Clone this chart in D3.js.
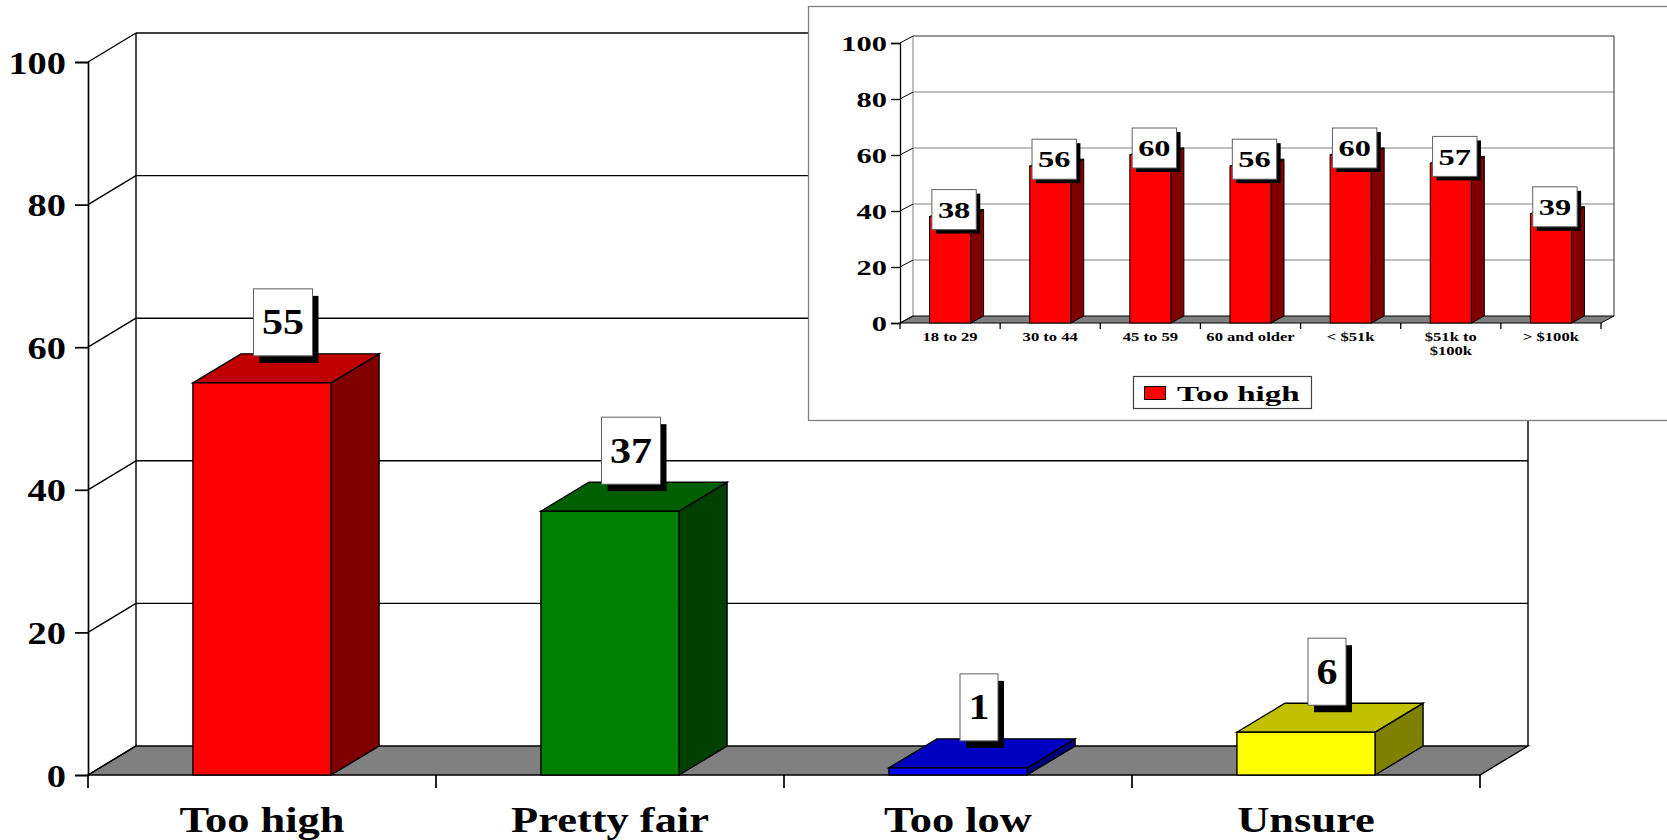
<!DOCTYPE html>
<html>
<head>
<meta charset="utf-8">
<script src="https://cdn.jsdelivr.net/npm/d3@7/dist/d3.min.js"></script>
<style>
  html, body { margin: 0; padding: 0; background: #fff; }
  svg { display: block; }
  text { font-family: "Liberation Serif", "Times New Roman", serif; font-weight: bold; fill: #000; }
</style>
</head>
<body>
<svg id="chart" width="1667" height="840"></svg>
<script>
// ---------- DATA ----------
const mainCategories = ["Too high", "Pretty fair", "Too low", "Unsure"];
const mainValues = [55, 37, 1, 6];
const mainFront = ["#FF0000", "#008000", "#0000FF", "#FFFF00"];
const mainTop   = ["#C00000", "#006000", "#0000C0", "#C0C000"];
const mainSide  = ["#800000", "#004000", "#000080", "#808000"];
const yTicks = [0, 20, 40, 60, 80, 100];

const insetCategories = ["18 to 29", "30 to 44", "45 to 59", "60 and older", "< $51k", "$51k to $100k", "> $100k"];
const insetTickLabels = [["18 to 29"], ["30 to 44"], ["45 to 59"], ["60 and older"], ["< $51k"], ["$51k to", "$100k"], ["> $100k"]];
const insetValues = [38, 56, 60, 56, 60, 57, 39];
const insetSeriesName = "Too high";
const insetColors = { front: "#FF0000", top: "#C00000", side: "#800000" };

// ---------- SETUP ----------
const svg = d3.select("#chart");

function scaledText(g, x, y, str, size, sx, anchor) {
  return g.append("text")
    .attr("transform", `translate(${x},${y}) scale(${sx},1)`)
    .attr("text-anchor", anchor || "middle")
    .style("font-size", size + "px")
    .text(str);
}

function draw3DChart(g, cfg) {
  const { x, y, dx, dy, cats, vals, front, top, side, gridColor, wallColor } = cfg;
  const [x0, x1] = x.range();
  const yb = y(0);
  const yt = y(100);

  // back wall gridlines
  g.append("g").selectAll("line").data(cfg.ticks.filter(t => t > 0)).join("line")
    .attr("x1", x0 + dx).attr("x2", x1 + dx)
    .attr("y1", d => y(d) + dy).attr("y2", d => y(d) + dy)
    .attr("stroke", d => d === 100 ? wallColor : gridColor).attr("stroke-width", cfg.gw);
  // back wall verticals
  g.append("line").attr("x1", x0 + dx).attr("x2", x0 + dx).attr("y1", yt + dy).attr("y2", yb + dy)
    .attr("stroke", cfg.leftWall || wallColor).attr("stroke-width", cfg.gw);
  g.append("line").attr("x1", x1 + dx).attr("x2", x1 + dx).attr("y1", yt + dy).attr("y2", yb + dy)
    .attr("stroke", wallColor).attr("stroke-width", cfg.gw);

  // floor
  g.append("polygon")
    .attr("points", [[x0, yb], [x1, yb], [x1 + dx, yb + dy], [x0 + dx, yb + dy]].join(" "))
    .attr("fill", "#808080").attr("stroke", "#000").attr("stroke-width", cfg.gw);

  // left side wall diagonals
  g.append("g").selectAll("line").data(cfg.ticks).join("line")
    .attr("x1", x0).attr("x2", x0 + dx)
    .attr("y1", d => y(d)).attr("y2", d => y(d) + dy)
    .attr("stroke", "#000").attr("stroke-width", cfg.gw);

  // y axis (ticks + labels) via d3.axisLeft
  const ax = g.append("g").attr("transform", `translate(${x0},0)`)
    .call(d3.axisLeft(y).tickValues(cfg.ticks).tickSize(cfg.tickLen).tickFormat(d3.format("d")));
  ax.select(".domain").attr("stroke", "#000").attr("stroke-width", cfg.gw + 0.3);
  ax.selectAll(".tick line").attr("stroke", "#000").attr("stroke-width", cfg.gw + 0.3);
  ax.selectAll(".tick text")
    .attr("x", null).attr("dy", null)
    .attr("font-family", null).attr("font-size", null).attr("fill", null)
    .attr("text-anchor", "end")
    .attr("transform", `translate(${-cfg.ylabGap},${cfg.ylabDy}) scale(${cfg.ylabSx},1)`)
    .style("font-size", cfg.ylabSize + "px");

  // category boundary ticks
  const step = x.step();
  g.append("g").selectAll("line").data(d3.range(cats.length + 1)).join("line")
    .attr("x1", i => x0 + i * step).attr("x2", i => x0 + i * step)
    .attr("y1", yb).attr("y2", yb + cfg.catTick)
    .attr("stroke", "#000").attr("stroke-width", cfg.gw + 0.3);

  // bars
  const bw = x.bandwidth();
  const bars = g.append("g").selectAll("g").data(vals).join("g");
  bars.each(function (v, i) {
    const b = d3.select(this);
    const L = x(cats[i]), R = L + bw, T = y(v);
    b.append("polygon")
      .attr("points", [[R, yb], [R + dx, yb + dy], [R + dx, T + dy], [R, T]].join(" "))
      .attr("fill", side[i]).attr("stroke", "#000").attr("stroke-width", cfg.bw);
    b.append("polygon")
      .attr("points", [[L, T], [R, T], [R + dx, T + dy], [L + dx, T + dy]].join(" "))
      .attr("fill", top[i]).attr("stroke", "#000").attr("stroke-width", cfg.bw);
    b.append("rect")
      .attr("x", L).attr("y", T).attr("width", bw).attr("height", yb - T)
      .attr("fill", front[i]).attr("stroke", "#000").attr("stroke-width", cfg.bw);
  });

  // value label boxes
  vals.forEach((v, i) => {
    const cx = x(cats[i]) + bw / 2 + cfg.boxDx;
    const str = String(v);
    const lg = g.append("g");
    const t = scaledText(lg, 0, 0, str, cfg.lblSize, cfg.lblSx, "middle");
    const tw = t.node().getComputedTextLength() * cfg.lblSx;
    t.remove();
    const w = tw + cfg.boxPad, h = cfg.boxH;
    const by = cfg.boxAnchor === "bottom" ? (y(v) + dy + cfg.boxYOff - h) : (y(v) + dy - h / 2 + cfg.boxYOff);
    lg.append("rect").attr("x", cx - w / 2 + cfg.shOff[0]).attr("y", by + cfg.shOff[1])
      .attr("width", w).attr("height", h).attr("fill", "#000");
    lg.append("rect").attr("x", cx - w / 2).attr("y", by).attr("width", w).attr("height", h)
      .attr("fill", "#fff").attr("stroke", "#606060").attr("stroke-width", 1);
    scaledText(lg, cx, by + h / 2 + cfg.lblSize * 0.34, str, cfg.lblSize, cfg.lblSx, "middle");
  });
}

// ---------- MAIN CHART ----------
const mainG = svg.append("g");
const xMain = d3.scaleBand().domain(mainCategories).range([88, 1480]).paddingInner(0.603).paddingOuter(0.3015);
const yMain = d3.scaleLinear().domain([0, 100]).range([775, 62]);
draw3DChart(mainG, {
  x: xMain, y: yMain, dx: 48, dy: -29, cats: mainCategories, vals: mainValues,
  front: mainFront, top: mainTop, side: mainSide, ticks: yTicks,
  gridColor: "#000", wallColor: "#000", gw: 1.4, bw: 1.4, tickLen: 13, catTick: 13,
  ylabGap: 22, ylabDy: 11, ylabSx: 1.2, ylabSize: 32,
  lblSize: 35, lblSx: 1.2, boxPad: 17, boxH: 67, boxDx: 21, boxAnchor: "bottom", boxYOff: 2, shOff: [6, 7]
});
// main category labels via axisBottom
const catAxis = mainG.append("g").attr("transform", "translate(0,775)")
  .call(d3.axisBottom(xMain).tickSize(0).tickPadding(0));
catAxis.select(".domain").remove();
catAxis.selectAll(".tick text")
  .attr("y", null).attr("dy", null)
  .attr("font-family", null).attr("font-size", null).attr("fill", null)
  .attr("transform", "translate(0,57) scale(1.27,1)")
  .style("font-size", "35px");

// ---------- INSET ----------
const insetG = svg.append("g");
insetG.append("rect").attr("x", 808.5).attr("y", 6.5).attr("width", 880).attr("height", 414)
  .attr("fill", "#fff").attr("stroke", "#808080").attr("stroke-width", 1.3);

const xIn = d3.scaleBand().domain(insetCategories).range([900, 1601]).paddingInner(0.59).paddingOuter(0.295);
const yIn = d3.scaleLinear().domain([0, 100]).range([323, 43]);
draw3DChart(insetG, {
  x: xIn, y: yIn, dx: 13, dy: -7, cats: insetCategories, vals: insetValues,
  front: insetValues.map(() => insetColors.front), top: insetValues.map(() => insetColors.top),
  side: insetValues.map(() => insetColors.side), ticks: yTicks,
  gridColor: "#808080", wallColor: "#303030", leftWall: "#808080", gw: 1, bw: 1, tickLen: 9, catTick: 6,
  ylabGap: 13, ylabDy: 7, ylabSx: 1.45, ylabSize: 21,
  lblSize: 24, lblSx: 1.35, boxPad: 12, boxH: 40, boxDx: 4, boxAnchor: "center", boxYOff: 0, shOff: [4, 4]
});
// inset category labels
insetTickLabels.forEach((lines, i) => {
  const cx = xIn(insetCategories[i]) + xIn.bandwidth() / 2;
  lines.forEach((ln, j) => scaledText(insetG, cx, 341 + j * 14, ln, 12, 1.38, "middle"));
});
// legend
const legG = insetG.append("g");
legG.append("rect").attr("x", 1133.5).attr("y", 376.5).attr("width", 178).attr("height", 32)
  .attr("fill", "#fff").attr("stroke", "#404040").attr("stroke-width", 1.2);
legG.append("rect").attr("x", 1144.5).attr("y", 386.5).attr("width", 21).attr("height", 13)
  .attr("fill", insetColors.front).attr("stroke", "#000").attr("stroke-width", 1);
scaledText(legG, 1177, 401, insetSeriesName, 22, 1.5, "start");
</script>
</body>
</html>
